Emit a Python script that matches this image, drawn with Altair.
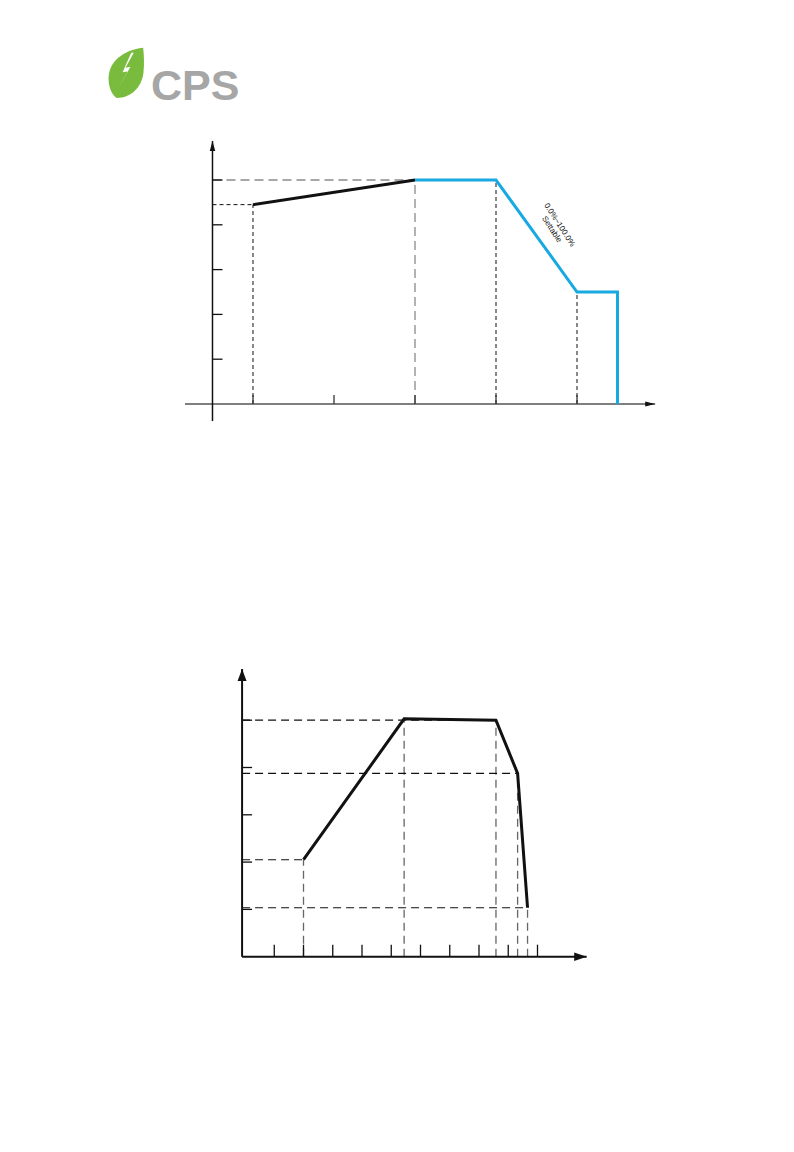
import altair as alt
import pandas as pd

FONT = "Liberation Sans"

# ---------------- Chart 1 data ----------------
C1_X = [10, 50, 70, 90, 100, 100]
C1_Y = [89, 100, 100, 50, 50, 0]
C1_XTICKS = [10, 30, 50, 70, 90]
C1_YTICKS = [20, 40, 60, 80, 100]
C1_XAXIS = [-6.8, 109.3]
C1_YAXIS = [-7.6, 117.4]
C1_NOTE = ["0.0%~100.0%", "Settable"]
C1_NOTE_X = [85.6, 83.7]
C1_NOTE_Y = [79.9, 77.9]

# ---------------- Chart 2 data ----------------
C2_X = [2.0, 5.44, 8.58, 9.32, 9.66]
C2_Y = [41, 100.6, 100, 77.5, 20.7]
C2_XTICKS = [1, 2, 3, 4, 5, 6, 7, 8, 9, 10]
C2_YTICKS = [20, 40, 60, 80, 100]
C2_XAXIS = [-0.1, 11.68]
C2_YAXIS = [0, 121.6]

W = 778

# ---------------- Logo ----------------
one = pd.DataFrame({"a": [0]})
LEAF = ("M0.66,-0.97 C-0.1,-0.88 -0.66,-0.45 -0.67,0.2 C-0.67,0.6 -0.52,0.85 -0.36,0.96 "
        "C0.2,0.96 0.6,0.55 0.67,0.0 C0.71,-0.35 0.69,-0.7 0.66,-0.97 Z")
BOLT = ("M0.3,-0.78 L-0.02,-0.2 L0.17,-0.24 L-0.3,0.62 L0.06,-0.06 L-0.13,-0.03 L0.2,-0.78 Z")
leaf = alt.Chart(one).mark_point(shape=LEAF, filled=True, color="#79bc3d", opacity=1, size=2704).encode(
    x=alt.value(118), y=alt.value(65))
bolt = alt.Chart(one).mark_point(shape=BOLT, filled=True, color="white", opacity=1, size=2704).encode(
    x=alt.value(118), y=alt.value(65))
cps = alt.Chart(one).mark_text(text="CPS", font=FONT, fontWeight="bold", fontSize=43, color="#a6a6a6",
                               align="left", baseline="alphabetic").encode(x=alt.value(143), y=alt.value(92))
logo = alt.layer(leaf, bolt, cps).properties(width=W, height=112)

# ---------------- Chart 1 ----------------
xs1 = alt.Scale(domain=[-50.49, 141.6], nice=False, zero=False)
ys1 = alt.Scale(domain=[-16.07, 126.79], nice=False, zero=False)


def X1(f):
    return alt.X(f, type="quantitative", scale=xs1, axis=None)


def Y1(f):
    return alt.Y(f, type="quantitative", scale=ys1, axis=None)


pts1 = pd.DataFrame({"x": C1_X, "y": C1_Y, "i": range(len(C1_X))})
black1 = pts1.iloc[0:2]
blue1 = pts1.iloc[1:]

ax1 = pd.DataFrame({"x": [C1_XAXIS[0], 0], "x2": [C1_XAXIS[1], 0],
                    "y": [0, C1_YAXIS[0]], "y2": [0, C1_YAXIS[1]], "c": ["#555555", "#111111"]})
axes1 = alt.Chart(ax1).mark_rule(strokeWidth=1.5).encode(
    x=X1("x"), x2="x2", y=Y1("y"), y2="y2", color=alt.Color("c:N", scale=None))

yt1 = alt.Chart(pd.DataFrame({"y": C1_YTICKS, "x": [0] * len(C1_YTICKS)})).mark_rule(
    color="#111", strokeWidth=1.3, x2Offset=10).encode(x=X1("x"), x2="x", y=Y1("y"))
xt1 = alt.Chart(pd.DataFrame({"x": C1_XTICKS, "y": [0] * len(C1_XTICKS)})).mark_rule(
    color="#333", strokeWidth=1.3, y2Offset=-9).encode(x=X1("x"), y=Y1("y"), y2="y")

# guides: short black dashes
g1b = pd.DataFrame({
    "x": [C1_X[0], C1_X[2], C1_X[3], 0],
    "x2": [C1_X[0], C1_X[2], C1_X[3], C1_X[0]],
    "y": [0, 0, 0, C1_Y[0]],
    "y2": [C1_Y[0], C1_Y[2], C1_Y[3], C1_Y[0]],
})
guides1b = alt.Chart(g1b).mark_rule(color="#111", strokeWidth=1, strokeDash=[4, 3]).encode(
    x=X1("x"), x2="x2", y=Y1("y"), y2="y2")
g1g = pd.DataFrame({
    "x": [C1_X[1], 0], "x2": [C1_X[1], C1_X[1]],
    "y": [0, C1_Y[1]], "y2": [C1_Y[1], C1_Y[1]],
})
guides1g = alt.Chart(g1g).mark_rule(color="#8a8a8a", strokeWidth=1.3, strokeDash=[9, 5]).encode(
    x=X1("x"), x2="x2", y=Y1("y"), y2="y2")

line1k = alt.Chart(black1).mark_line(color="#111", strokeWidth=3).encode(x=X1("x"), y=Y1("y"), order="i:Q")
line1b = alt.Chart(blue1).mark_line(color="#17a9e1", strokeWidth=3, strokeJoin="miter").encode(
    x=X1("x"), y=Y1("y"), order="i:Q")

arrY1 = alt.Chart(pd.DataFrame({"x": [0], "y": [C1_YAXIS[1]]})).mark_point(
    shape="M0,-1L0.55,1L-0.55,1Z", filled=True, color="#111", opacity=1, size=100, yOffset=5).encode(
    x=X1("x"), y=Y1("y"))
arrX1 = alt.Chart(pd.DataFrame({"x": [C1_XAXIS[1]], "y": [0]})).mark_point(
    shape="M1,0L-1,0.5L-1,-0.5Z", filled=True, color="#111", opacity=1, size=100, xOffset=-5).encode(
    x=X1("x"), y=Y1("y"))

note1 = alt.Chart(pd.DataFrame({"t": C1_NOTE, "x": C1_NOTE_X, "y": C1_NOTE_Y})).mark_text(
    font=FONT, fontSize=8, angle=57, align="center", baseline="middle", color="#111").encode(
    x=X1("x"), y=Y1("y"), text="t:N")

chart1 = alt.layer(guides1g, guides1b, axes1, yt1, xt1, line1k, line1b, arrY1, arrX1, note1).properties(
    width=W, height=320)

# ---------------- Chart 2 ----------------
xs2 = alt.Scale(domain=[-8.103, 18.496], nice=False, zero=False)
ys2 = alt.Scale(domain=[-18.31, 218.48], nice=False, zero=False)


def X2(f):
    return alt.X(f, type="quantitative", scale=xs2, axis=None)


def Y2(f):
    return alt.Y(f, type="quantitative", scale=ys2, axis=None)


pts2 = pd.DataFrame({"x": C2_X, "y": C2_Y, "i": range(len(C2_X))})
x0 = C2_XAXIS[0]

ax2 = pd.DataFrame({"x": [C2_XAXIS[0], x0], "x2": [C2_XAXIS[1], x0],
                    "y": [0, C2_YAXIS[0]], "y2": [0, C2_YAXIS[1]]})
axes2 = alt.Chart(ax2).mark_rule(strokeWidth=2, color="#111").encode(
    x=X2("x"), x2="x2", y=Y2("y"), y2="y2")
yt2 = alt.Chart(pd.DataFrame({"y": C2_YTICKS, "x": [x0] * len(C2_YTICKS)})).mark_rule(
    color="#111", strokeWidth=1.3, x2Offset=10).encode(x=X2("x"), x2="x", y=Y2("y"))
xt2 = alt.Chart(pd.DataFrame({"x": C2_XTICKS, "y": [0] * len(C2_XTICKS)})).mark_rule(
    color="#111", strokeWidth=1.3, y2Offset=-12).encode(x=X2("x"), y=Y2("y"), y2="y")

hg2 = pd.DataFrame({"x": [x0] * 4, "x2": [C2_X[0], C2_X[2], C2_X[3], C2_X[4]],
                    "y": [C2_Y[0], C2_Y[2], C2_Y[3], C2_Y[4]]})
hguides2 = alt.Chart(hg2).mark_rule(color="#111", strokeWidth=1.2, strokeDash=[8, 5]).encode(
    x=X2("x"), x2="x2", y=Y2("y"))
vg2 = pd.DataFrame({"x": C2_X, "y": [0] * len(C2_X), "y2": [C2_Y[0], C2_Y[2], C2_Y[2], C2_Y[3], C2_Y[4]]})
vguides2 = alt.Chart(vg2).mark_rule(color="#666", strokeWidth=1.3, strokeDash=[8, 5]).encode(
    x=X2("x"), y=Y2("y"), y2="y2")

line2 = alt.Chart(pts2).mark_line(color="#111", strokeWidth=3, strokeJoin="miter").encode(
    x=X2("x"), y=Y2("y"), order="i:Q")

arrY2 = alt.Chart(pd.DataFrame({"x": [x0], "y": [C2_YAXIS[1]]})).mark_point(
    shape="M0,-1L0.75,1L-0.75,1Z", filled=True, color="#111", opacity=1, size=144, yOffset=6).encode(
    x=X2("x"), y=Y2("y"))
arrX2 = alt.Chart(pd.DataFrame({"x": [C2_XAXIS[1]], "y": [0]})).mark_point(
    shape="M1,0L-1,0.68L-1,-0.68Z", filled=True, color="#111", opacity=1, size=156, xOffset=-6.2).encode(
    x=X2("x"), y=Y2("y"))

chart2 = alt.layer(vguides2, hguides2, axes2, yt2, xt2, line2, arrY2, arrX2).properties(width=W, height=560)

chart = alt.vconcat(logo, chart1, chart2, spacing=0, bounds="flush").properties(padding=0).configure_view(
    stroke=None)

chart.save("out.html", embed_options={"renderer": "svg", "actions": False})
